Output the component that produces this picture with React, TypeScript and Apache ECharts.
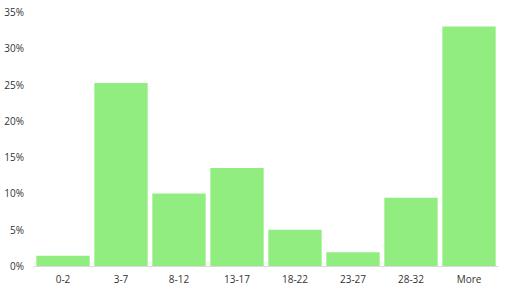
import React, { useEffect, useRef } from "react";
import * as echarts from "echarts";

const categories = ["0-2", "3-7", "8-12", "13-17", "18-22", "23-27", "28-32", "More"];
const values = [1.4, 25.2, 10.0, 13.5, 5.0, 1.9, 9.4, 33.0];
const yTicks = [0, 5, 10, 15, 20, 25, 30, 35];

export default function App() {
  const ref = useRef<HTMLDivElement>(null);
  useEffect(() => {
    document.body.style.margin = "0";
    const chart = echarts.init(ref.current!, null, { renderer: "svg" });
    chart.setOption({
      animation: false,
      backgroundColor: "#ffffff",
      grid: { left: 34, right: 14, top: 12, bottom: 27 },
      xAxis: {
        type: "category",
        data: categories,
        axisLine: { lineStyle: { color: "#d9d9d9", width: 1 } },
        axisTick: { show: false },
        axisLabel: { color: "#333", fontSize: 10, fontFamily: "Open Sans", margin: 8 },
      },
      yAxis: {
        type: "value",
        min: yTicks[0],
        max: yTicks[yTicks.length - 1],
        interval: 5,
        splitLine: { show: false },
        axisLine: { show: false },
        axisTick: { show: false },
        axisLabel: {
          color: "#333",
          fontSize: 10,
          fontFamily: "Open Sans",
          margin: 10,
          formatter: (v: number) => v + "%",
        },
      },
      series: [
        {
          type: "bar",
          data: values,
          barCategoryGap: "8%",
          itemStyle: { color: "#92ed80" },
        },
      ],
    });
    return () => chart.dispose();
  }, []);
  return <div ref={ref} style={{ width: 512, height: 293 }} />;
}
